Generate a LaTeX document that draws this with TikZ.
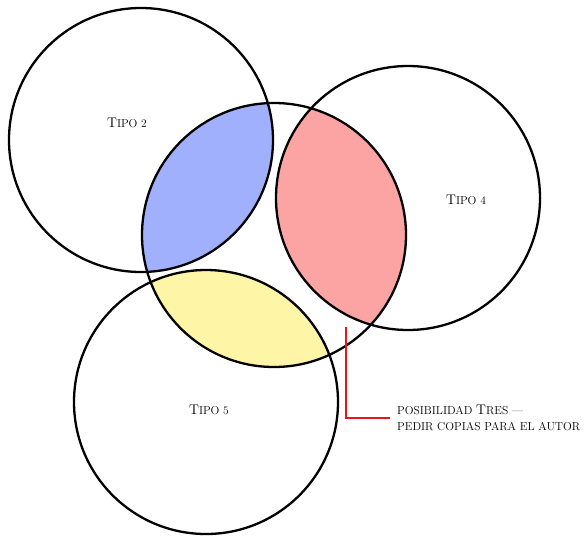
\documentclass[tikz,border=0pt]{standalone}
\usepackage{tikz}
\usetikzlibrary{positioning}

\definecolor{azul}{HTML}{A1B0FC}
\definecolor{rojo}{HTML}{FCA4A4}
\definecolor{amarillo}{HTML}{FEF5A6}
\definecolor{linearoja}{HTML}{E8151B}

\newcommand{\capi}[1]{{\fontsize{14}{14}\selectfont #1}}

\tikzset{
  venn/.style={draw=black, line width=2.3pt},
  tipo/.style={font=\fontsize{11.5}{16}\selectfont},
}

\begin{document}
\begin{tikzpicture}[x=1pt,y=-1pt]
        \useasboundingbox (0,0) rectangle (586,536);
        \def\radio{132pt}

        % centros de los circulos
        \coordinate (c2) at (141,140);
        \coordinate (cm) at (274,235);
        \coordinate (c4) at (408,198);
        \coordinate (c5) at (206,402);

        % intersecciones con el circulo central
        \begin{scope}
            \clip (cm) circle (\radio);
            \fill[azul] (c2) circle (\radio);
            \fill[rojo] (c4) circle (\radio);
            \fill[amarillo] (c5) circle (\radio);
        \end{scope}

        \draw[venn] (c2) circle (\radio);
        \draw[venn] (cm) circle (\radio);
        \draw[venn] (c4) circle (\radio);
        \draw[venn] (c5) circle (\radio);

        \node[tipo] (t2) at (127,123) {\capi{T}IPO 2};
        \node[tipo] (t4) at (466,200) {\capi{T}IPO 4};
        \node[tipo] (t5) at (209,410) {\capi{T}IPO 5};

        % nota
        \coordinate (punta) at (346,327);
        \node[tipo, align=left, anchor=west, inner sep=1pt] (nota) at (396,418)
            {POSIBILIDAD \capi{T}RES ---\\PEDIR COPIAS PARA EL AUTOR};
        \draw[linearoja, line width=1.2pt] (punta) |- ([xshift=-6pt]nota.west);
\end{tikzpicture}
\end{document}
